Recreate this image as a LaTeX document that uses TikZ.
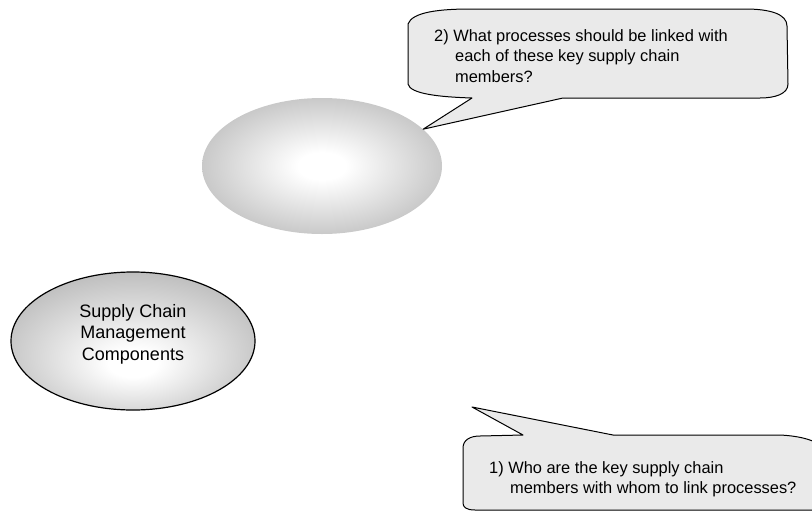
\documentclass[tikz,border=0pt]{standalone}
\usepackage{fontspec}
\setmainfont{Liberation Sans}
\usetikzlibrary{shapes.geometric}
\definecolor{bubblegray}{RGB}{234, 234, 234}
\definecolor{ballgray}{RGB}{174, 174, 174}
\pgfdeclareradialshading{ballshade}{\pgfpoint{0bp}{0bp}}{color(0bp)=(white); color(5bp)=(white); color(35bp)=(ballgray); color(50bp)=(ballgray)}
\pgfdeclareradialshading{ballshadelow}{\pgfpoint{0bp}{-9bp}}{color(0bp)=(white); color(5bp)=(white); color(35bp)=(ballgray); color(50bp)=(ballgray)}

\begin{document}
\begin{tikzpicture}[x=1pt, y=-1pt,
  ball/.style={ellipse, shade, shading=ballshade, minimum width=240pt, minimum height=136pt, inner sep=0pt},
  bubble/.style={draw, line width=1pt, fill=bubblegray, line join=round},
  bubbletext/.style={anchor=north west, inner sep=0pt, align=left, font=\fontsize{16.4}{20.7}\selectfont}]
  \useasboundingbox (0,0) rectangle (812,512);

  % Ellipses
  \node[ball] (members) at (322,166) {};
  \node[ball, shading=ballshadelow, draw, line width=1.2pt, minimum width=244pt, minimum height=138pt,
    align=center, text depth=17.5pt, font=\fontsize{18}{21.3}\selectfont] (scm) at (133,341) {Supply Chain\\Management\\Components};

  % Callout 2
  \coordinate (tipA) at (members.20);
  \draw[bubble] (408,24) .. controls (412,12) and (440,9) .. (470,9) -- (745,9)
    .. controls (770,9) and (787,14) .. (787,26) -- (788,84)
    .. controls (788,94) and (775,98) .. (760,98) -- (563,98) -- (tipA) -- (472,98)
    .. controls (440,97) and (410,94) .. (408,84) -- cycle;
  \node[bubbletext] (q2) at (434,29) {2) What processes should be linked with\\\hspace*{21pt}each of these key supply chain\\\hspace*{21pt}members?};

  % Callout 1
  \coordinate (tipB) at (472,407);
  \draw[bubble] (463,448) .. controls (463,440) and (470,436) .. (480,436) -- (523,435) -- (tipB) -- (613,435)
    -- (780,435) .. controls (800,436) and (815,440) .. (825,448) -- (825,510)
    -- (475,510) .. controls (466,510) and (463,507) .. (463,503) -- cycle;
  \node[bubbletext] (q1) at (489,461) {1) Who are the key supply chain\\\hspace*{21pt}members with whom to link processes?};
\end{tikzpicture}
\end{document}
